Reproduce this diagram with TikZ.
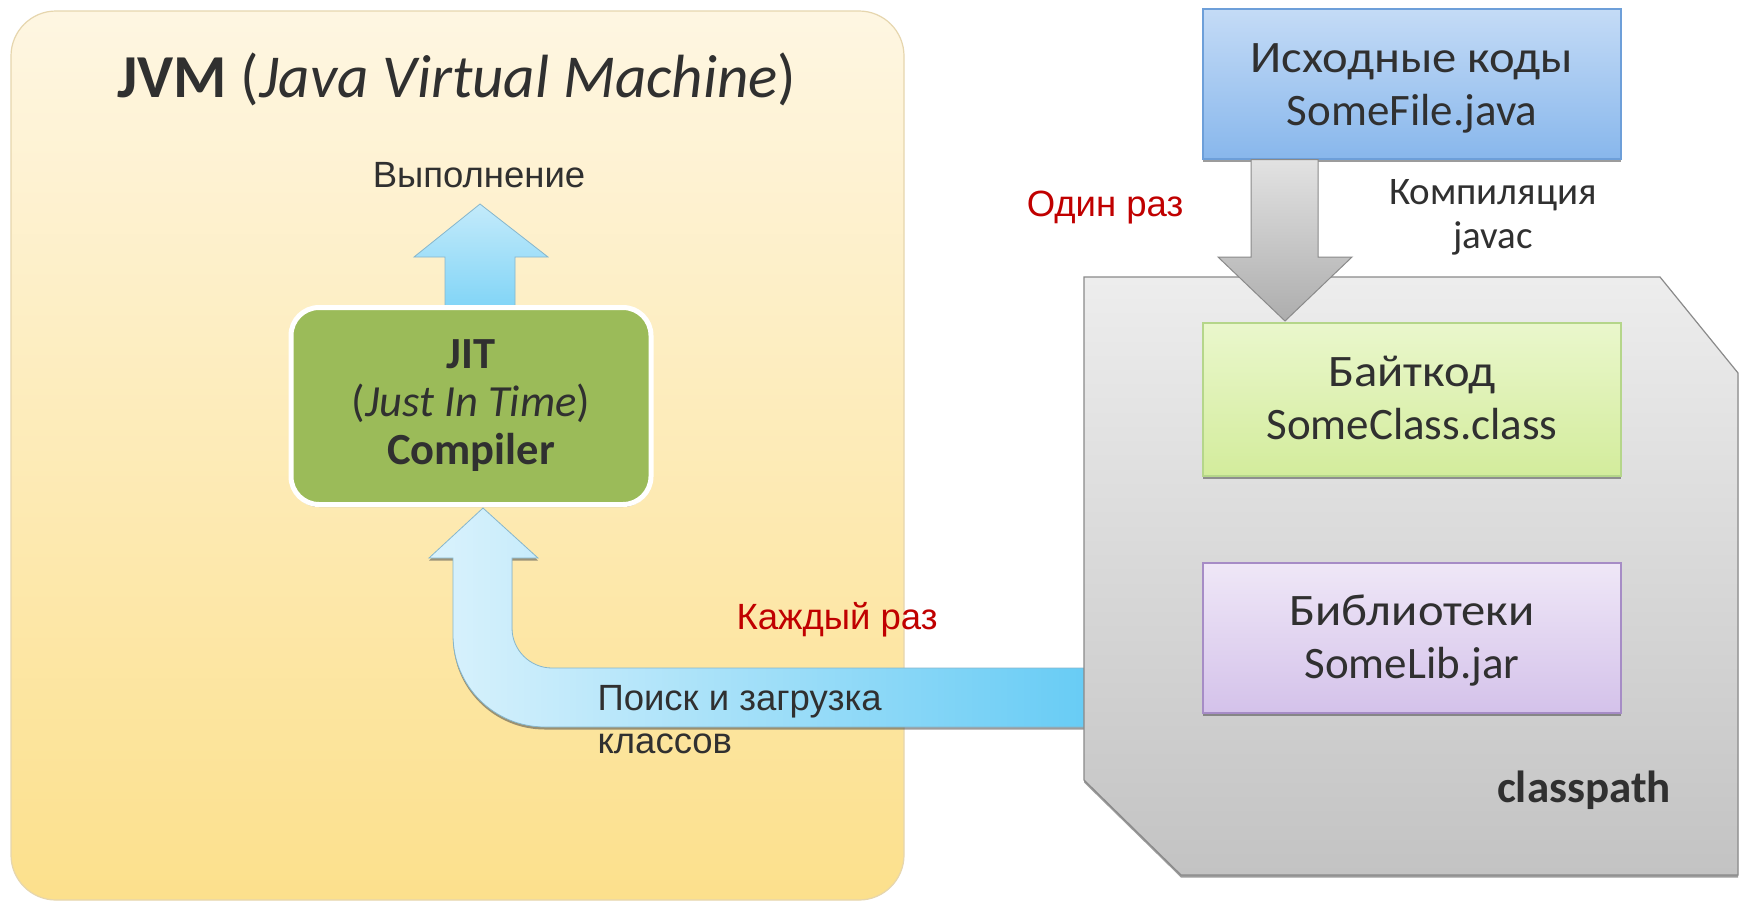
\documentclass[tikz,border=0pt]{standalone}
\usepackage{fontspec}
\usepackage{graphicx}
\setmainfont{Carlito}
\newfontfamily\arialf{Liberation Sans}
\usetikzlibrary{shadows,calc}
\definecolor{ytop}{HTML}{FEF6E2}
\definecolor{ybot}{HTML}{FCE08C}
\definecolor{yborder}{HTML}{E6D6AE}
\definecolor{txt}{HTML}{303030}
\definecolor{redtxt}{HTML}{C00000}
\definecolor{jitgreen}{HTML}{9BBB59}
\definecolor{srctop}{HTML}{C4DBF6}
\definecolor{srcbot}{HTML}{88B7EC}
\definecolor{srcborder}{HTML}{6D9FD9}
\definecolor{grntop}{HTML}{EAF7CC}
\definecolor{grnbot}{HTML}{D3EC9C}
\definecolor{grnborder}{HTML}{B5D68A}
\definecolor{purtop}{HTML}{EFE7F7}
\definecolor{purbot}{HTML}{D4C2EA}
\definecolor{purborder}{HTML}{A68CC6}
\definecolor{graytop}{HTML}{EDEDED}
\definecolor{graybot}{HTML}{C3C3C3}
\definecolor{grayborder}{HTML}{8A8A8A}
\definecolor{arrtop}{HTML}{E2E2E2}
\definecolor{arrbot}{HTML}{ADADAD}
\definecolor{bluelight}{HTML}{DAF2FC}
\definecolor{bluedark}{HTML}{68CCF5}
\definecolor{blueborder}{HTML}{86B6CC}
\newcommand{\wide}[1]{\scalebox{1.08}[1]{#1}}
\tikzset{
  shad/.style={drop shadow={shadow xshift=0pt, shadow yshift=-2.5pt, opacity=0.55, fill=black!70}},
  codebox/.style={minimum width=418, minimum height=150, line width=1.2, shad},
  codetext/.style={align=center, text=txt, font=\fontsize{45}{53}\selectfont},
  redlbl/.style={text=redtxt, font=\arialf\fontsize{36.5}{40}\selectfont},
  grylbl/.style={text=txt, font=\arialf\fontsize{36.5}{43}\selectfont},
}
\begin{document}
\begin{tikzpicture}[x=1pt,y=-1pt]
\useasboundingbox (0,0) rectangle (1747,906);
\fill[white] (0,0) rectangle (1747,906);

% JVM container
\path[draw=yborder, line width=1.2, top color=ytop, bottom color=ybot, rounded corners=45] (11,11) rectangle (904,900);
\node[text=txt, anchor=base, font=\fontsize{61}{64}\selectfont] (title) at (457,97) {\textbf{JVM} (\textit{Java Virtual Machine})};

% execution label and up arrow
\node[grylbl] (exec) at (479,175) {Выполнение};
\path[draw=blueborder, line width=0.8, top color=bluelight!80!bluedark, bottom color=bluedark!85!white]
  (480,204) -- (548,257) -- (515,257) -- (515,312) -- (445,312) -- (445,257) -- (414,257) -- cycle;

% curved load arrow
\path[draw=blueborder, line width=0.8, left color=bluelight, right color=bluedark, shad]
  (483,508) -- (538,558) -- (512,558) -- (512,628) .. controls (512,650) and (530,668) .. (552,668)
  -- (1084,668) -- (1084,727) -- (545,727) .. controls (494,727) and (453,686) .. (453,635)
  -- (453,558) -- (429,558) -- cycle;

% JIT box
\node[rounded corners=28, fill=jitgreen, draw=white, line width=5, minimum width=360, minimum height=197,
  align=center, text=txt, font=\fontsize{44.5}{48}\selectfont, shad] (jit) at (471,406)
  {\textbf{JIT}\\(\textit{Just In Time})\\\textbf{Compiler}};

\node[redlbl] (every) at (837,620) {Каждый раз};
\node[grylbl, anchor=west, align=left] (load) at (594,720) {Поиск и загрузка\\классов};

% classpath shape
\path[draw=grayborder, line width=1.2, top color=graytop, bottom color=graybot, shad]
  (1084,277) -- (1660,277) -- (1738,373) -- (1738,875) -- (1181,875) -- (1084,780) -- cycle;
\node[text=txt, font=\bfseries\fontsize{45}{48}\selectfont] (cp) at (1584,790) {classpath};

% source box
\node[codebox, draw=srcborder, top color=srctop, bottom color=srcbot] (src) at (1412,84) {};
\node[codetext] (srct) at ($(src.center)+(0,4.5)$) {\wide{Исходные коды}\\SomeFile.java};

% compile arrow
\path[draw=grayborder, line width=1, top color=arrtop, bottom color=arrbot]
  (src.south -| 1251,0) -- (1251,257) -- (1218,257) -- (1285,321) -- (1352,257) -- (1318,257) -- (src.south -| 1318,0) -- cycle;

\node[redlbl] (once) at (1105,208) {Один раз};
\node[text=txt, align=center, font=\fontsize{39}{44}\selectfont] (comp) at (1493,217) {Компиляция\\javac};

% bytecode and library boxes
\node[codebox, minimum height=153, draw=grnborder, top color=grntop, bottom color=grnbot] (byte) at (1412,399.5) {};
\node[codetext] (bytet) at ($(byte.center)+(0,-2)$) {\wide{Байткод}\\SomeClass.class};
\node[codebox, draw=purborder, top color=purtop, bottom color=purbot] (lib) at (1412,638) {};
\node[codetext] (libt) at ($(lib.center)+(0,2.5)$) {\wide{Библиотеки}\\SomeLib.jar};
\end{tikzpicture}
\end{document}
